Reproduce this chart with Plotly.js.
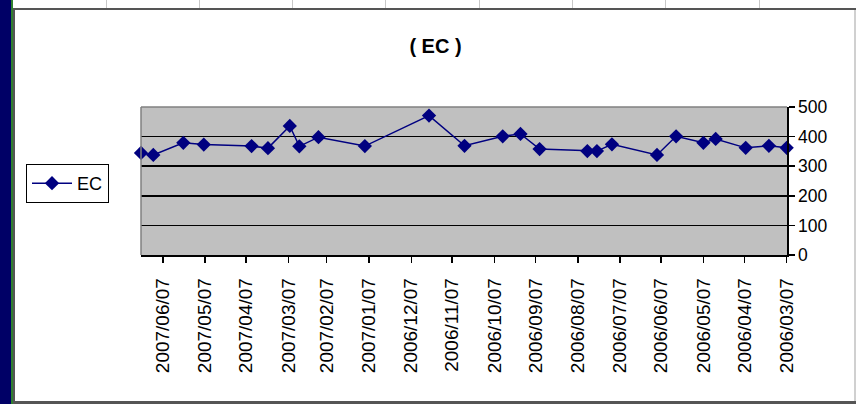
<!DOCTYPE html>
<html>
<head>
<meta charset="utf-8">
<script src="https://cdn.plot.ly/plotly-3.0.1.min.js"></script>
<style>
  html, body { margin: 0; padding: 0; background: #fff; }
  #wrap { position: relative; width: 856px; height: 404px; overflow: hidden; background: #fff; }
  #chart { position: absolute; left: 0; top: 0; width: 856px; height: 404px; }
  .deco { position: absolute; }
</style>
</head>
<body>
<div id="wrap">
  <div class="deco" style="left:0;top:0;width:11px;height:404px;background:#000066;"></div>
  <div class="deco" style="left:11px;top:0;width:2px;height:404px;background:#2f7f2f;"></div>
  <div class="deco" style="left:13px;top:8px;width:2px;height:396px;background:#555;"></div>
  <div class="deco" style="left:13px;top:8px;width:843px;height:2px;background:#555;"></div>
  <div class="deco" style="left:13px;top:401px;width:843px;height:3px;background:#555;"></div>
  <div class="deco" style="left:854px;top:10px;width:2px;height:391px;background:#d0d0d0;"></div>
  <div id="cells"></div>
  <div id="chart"></div>
</div>
<script>
// Data
var dates = [
  '2007-06-23','2007-06-14','2007-05-23','2007-05-08','2007-04-03','2007-03-22',
  '2007-03-06','2007-02-27','2007-02-13','2007-01-10','2006-11-24','2006-10-29',
  '2006-10-01','2006-09-18','2006-09-04','2006-07-31','2006-07-24','2006-07-13',
  '2006-06-10','2006-05-27','2006-05-07','2006-04-28','2006-04-06','2006-03-20',
  '2006-03-07'
];
var ecValues = [
  345, 338, 379, 373, 368, 361,
  436, 367, 398, 368, 471, 369,
  401, 409, 358, 351, 351, 374,
  338, 401, 379, 392, 362, 369,
  362
];
var seriesName = 'EC';
var chartTitle = '( EC )';
var yTicks = [0, 100, 200, 300, 400, 500];

// spreadsheet cell lines above the chart frame
var cellX = [106, 199, 292, 385, 479, 572, 665, 759];
var cells = document.getElementById('cells');
cellX.forEach(function (x) {
  var d = document.createElement('div');
  d.className = 'deco';
  d.style.cssText = 'left:' + x + 'px;top:0;width:1px;height:8px;background:#c8c8c8;';
  cells.appendChild(d);
});

var font = 'Arial, "Liberation Sans", sans-serif';

var trace = {
  x: dates,
  y: ecValues,
  name: seriesName,
  type: 'scatter',
  mode: 'lines+markers',
  cliponaxis: false,
  line: { color: '#000080', width: 1.5 },
  marker: { symbol: 'diamond', size: 11, color: '#000080' }
};

var layout = {
  width: 856,
  height: 404,
  margin: { l: 141, r: 69, t: 107, b: 149, pad: 0 },
  paper_bgcolor: 'rgba(0,0,0,0)',
  plot_bgcolor: '#c0c0c0',
  font: { family: font, color: '#000' },
  title: {
    text: chartTitle,
    font: { family: font, size: 20, weight: 'bold', color: '#000' },
    x: 435.5 / 856, xanchor: 'center',
    y: 1 - 46 / 404, yanchor: 'middle'
  },
  showlegend: true,
  legend: {
    x: (26 - 141) / 646, xanchor: 'left',
    y: (255 - 164) / 148, yanchor: 'top',
    bordercolor: '#000', borderwidth: 1,
    bgcolor: '#fff',
    itemwidth: 40,
    font: { family: font, size: 18, color: '#000' }
  },
  xaxis: {
    type: 'date',
    range: ['2007-06-23', '2006-03-06 18:00'],
    tick0: '2006-03-07',
    dtick: 'M1',
    tickformat: '%Y/%m/%d',
    tickangle: -90,
    ticks: 'outside', ticklen: 6, tickwidth: 1.5, tickcolor: '#000',
    ticklabelstandoff: 8,
    showline: true, linecolor: '#000', linewidth: 1.5,
    showgrid: false, zeroline: false,
    tickfont: { family: font, size: 19, color: '#000' }
  },
  yaxis: {
    side: 'right',
    range: [0, 500],
    tickvals: yTicks,
    ticks: 'outside', ticklen: 6, tickwidth: 1.5, tickcolor: '#000',
    showline: true, linecolor: '#000', linewidth: 1.5,
    showgrid: true, gridcolor: '#000', gridwidth: 1.5,
    zeroline: false,
    tickfont: { family: font, size: 17.5, color: '#000' }
  },
  shapes: [
    { type: 'line', xref: 'paper', yref: 'paper', x0: 0, x1: 1, y0: 1, y1: 1,
      line: { color: '#808080', width: 1.5 }, layer: 'above' },
    { type: 'line', xref: 'paper', yref: 'paper', x0: 0, x1: 0, y0: 0, y1: 1,
      line: { color: '#808080', width: 1.5 }, layer: 'above' }
  ]
};

Plotly.newPlot('chart', [trace], layout, { staticPlot: true, displayModeBar: false });
</script>
</body>
</html>
